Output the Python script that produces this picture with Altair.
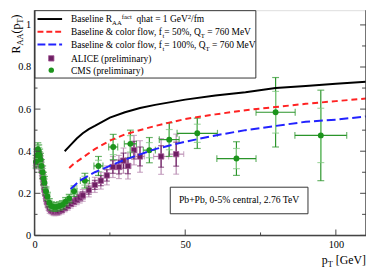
import altair as alt
import pandas as pd

# ---------------- data ----------------
base_x = [10, 12, 14, 16, 18, 20, 25, 30, 35, 40, 50, 60, 70, 80, 90, 100, 110]
base_y = [0.40, 0.43, 0.46, 0.485, 0.505, 0.52, 0.56, 0.585, 0.605, 0.62, 0.645, 0.665, 0.68, 0.70, 0.71, 0.72, 0.73]
cf50_x = [11.5, 13, 15, 18, 20, 25, 30, 40, 50, 60, 70, 80, 90, 100, 110]
cf50_y = [0.32, 0.34, 0.36, 0.39, 0.41, 0.45, 0.48, 0.52, 0.553, 0.575, 0.595, 0.61, 0.625, 0.638, 0.65]
cf100_x = [12, 15, 20, 25, 30, 35, 40, 50, 60, 70, 80, 90, 100, 110]
cf100_y = [0.22, 0.26, 0.30, 0.33, 0.36, 0.385, 0.41, 0.445, 0.475, 0.50, 0.52, 0.54, 0.55, 0.565]

alice_x = [0.6, 0.9, 1.2, 1.5, 1.8, 2.1, 2.4, 2.7, 3.0, 3.3, 3.6, 3.9, 4.2, 4.6, 5.0,
           5.5, 6.0, 6.5, 7.0, 7.5, 8.0, 9.0, 10.0, 11.0, 12.0, 13.0, 14.0, 15.0, 16.0,
           18.0, 20.0, 22.0, 24.0, 26.0, 28.0, 29.5, 31.0, 33.0, 35.0, 42.0, 47.0]
alice_y = [0.34, 0.36, 0.38, 0.38, 0.37, 0.34, 0.31, 0.28, 0.25, 0.22, 0.20, 0.175, 0.16, 0.145, 0.13,
           0.12, 0.115, 0.112, 0.112, 0.113, 0.115, 0.12, 0.13, 0.14, 0.15, 0.16, 0.17, 0.18, 0.19,
           0.215, 0.24, 0.26, 0.285, 0.325, 0.325, 0.355, 0.33, 0.405, 0.375, 0.375, 0.386]
alice_yerr = [0.025] * 15 + [0.018] * 8 + [0.02, 0.02, 0.022, 0.024, 0.026, 0.028,
              0.032, 0.036, 0.04, 0.045, 0.05, 0.055, 0.06, 0.062, 0.07, 0.075, 0.085, 0.095]
alice_xerr = [0] * 32 + [0, 1.0, 1.0, 1.0, 1.0, 1.0, 1.5, 2.5, 2.5]

cms_x = [0.5, 0.8, 1.1, 1.4, 1.7, 2.0, 2.3, 2.7, 3.0, 3.3, 3.8, 4.3, 4.9, 5.6, 6.4, 7.2, 8.2, 9.2,
         10.3, 11.5, 13.1, 16.7, 21.2, 26.1, 31.8, 38.1, 44.7, 54.0, 67.0, 80.0, 95.0]
cms_y = [0.35, 0.38, 0.41, 0.40, 0.38, 0.36, 0.33, 0.30, 0.27, 0.25, 0.21, 0.185, 0.155, 0.14, 0.135,
         0.135, 0.14, 0.145, 0.16, 0.175, 0.21, 0.26, 0.33, 0.42, 0.435, 0.405, 0.455, 0.485, 0.365, 0.585, 0.475]
cms_yerr = [0.03] * 10 + [0.02] * 10 + [0.025, 0.035, 0.045, 0.06, 0.065, 0.06, 0.08, 0.072, 0.08, 0.165, 0.215]
cms_xerr = [0] * 20 + [1.0, 1.5, 1.5, 1.5, 2.0, 2.0, 3.3, 6.7, 6.5, 6.5, 8.6]

x_major = [0, 50, 100]
x_minor = [25, 75]
y_major = [0, 0.2, 0.4, 0.6, 0.8, 1.0]
y_minor = [0.1, 0.3, 0.5, 0.7, 0.9]

legend_labels = [
    [("Baseline R", "n"), ("AA", "sub"), ("fact", "sup"), ("  qhat = 1 GeV", "n"), ("2", "sup"), ("/fm", "n")],
    [("Baseline & color flow, f", "n"), ("t", "sub"), ("= 50%, Q", "n"), ("T", "sub"), (" = 760 MeV", "n")],
    [("Baseline & color flow, f", "n"), ("t", "sub"), ("= 100%, Q", "n"), ("T", "sub"), (" = 760 MeV", "n")],
    [("ALICE (preliminary)", "n")],
    [("CMS (preliminary)", "n")],
]
annotation = "Pb+Pb,  0-5% central, 2.76 TeV"
y_title = [("R", "n"), ("AA", "sub"), ("(p", "n"), ("T", "sub"), (")", "n")]
x_title = [("p", "n"), ("T", "sub"), (" [GeV]", "n")]

# ---------------- layout ----------------
W, H = 337, 229
SERIF = "Liberation Serif, Times New Roman, Times, DejaVu Serif, serif"
FRAME = "#444444"
xs = alt.Scale(domain=[0, 110], nice=False, zero=False)
ys = alt.Scale(domain=[0, 1.07], nice=False, zero=False)
ONE = alt.Data(values=[{"a": 1}])

AX = alt.Axis(values=x_major, format="d", ticks=False, tickSize=0, domain=False, grid=False,
              labelFlush=False, labelPadding=4, labelFont=SERIF, labelFontSize=10.5,
              labelColor="black", title=None)
AY = alt.Axis(values=y_major, format="~g", ticks=False, tickSize=0, domain=False, grid=False,
              labelPadding=4, labelFont=SERIF, labelFontSize=10.5, labelColor="black", title=None)

TW = {' ': 250, 'a': 444, 'b': 500, 'c': 444, 'd': 500, 'e': 444, 'f': 333, 'g': 500, 'h': 500,
      'i': 278, 'l': 278, 'm': 778, 'n': 500, 'o': 500, 'p': 500, 'q': 500, 'r': 333, 's': 389,
      't': 278, 'u': 500, 'v': 500, 'w': 722, 'y': 500, 'A': 722, 'B': 667, 'C': 667, 'E': 611,
      'G': 722, 'I': 333, 'L': 611, 'M': 889, 'P': 556, 'Q': 722, 'R': 667, 'S': 556, 'T': 611,
      'V': 722, '&': 778, ',': 250, '.': 250, '=': 564, '%': 833, '(': 333, ')': 333, '/': 278,
      '[': 333, ']': 333, '+': 564, '-': 333}


def tw(s, fs):
    return sum(TW.get(c, 500) for c in s) * fs / 1000.0


def text_piece(txt, x, y, fs, angle=0):
    kw = dict(font=SERIF, fontSize=fs, color="black", align="left", baseline="alphabetic")
    if angle:
        kw["angle"] = angle
    return alt.Chart(ONE).mark_text(**kw).encode(x=alt.value(x), y=alt.value(y), text=alt.value(txt))


def rich(pieces, x0, y0, fs, sfs, vertical=False):
    out = []
    pos = 0.0
    for txt, kind in pieces:
        if kind == "n":
            f, d = fs, 0.0
        elif kind == "sub":
            f, d = sfs, fs * 0.3
        else:
            f, d = sfs, -fs * 0.42
        lead = len(txt) - len(txt.lstrip(" "))
        pos += tw(" " * lead, f)
        core = txt.strip(" ")
        if vertical:
            out.append(text_piece(core, x0 + d, y0 - pos, f, angle=270))
        else:
            out.append(text_piece(core, x0 + pos, y0 + d, f))
        pos += tw(txt.lstrip(" "), f)
    return out


def XQ(field):
    return alt.X(field, type="quantitative", scale=xs, axis=AX)


def YQ(field):
    return alt.Y(field, type="quantitative", scale=ys, axis=AY)


def curve(xv, yv, color, dash=None):
    kw = dict(color=color, strokeWidth=2, clip=True)
    if dash:
        kw["strokeDash"] = dash
    return alt.Chart(pd.DataFrame({"x": xv, "y": yv})).mark_line(**kw).encode(x=XQ("x"), y=YQ("y"))


def errors(xv, yv, ye, xe, outer, inner, capw):
    df = pd.DataFrame({"x": xv, "y": yv, "ye": ye, "xe": xe})
    df["lo"] = df.y - df.ye
    df["hi"] = df.y + df.ye
    df["ilo"] = df.y - 0.6 * df.ye
    df["ihi"] = df.y + 0.6 * df.ye
    df["xlo"] = df.x - df.xe
    df["xhi"] = df.x + df.xe
    layers = []
    layers.append(alt.Chart(df).mark_rule(color=outer, strokeWidth=1.2).encode(
        x=XQ("x"), y=YQ("lo"), y2="hi:Q"))
    caps = pd.DataFrame({"x": list(df.x) * 2, "y": list(df.lo) + list(df.hi)})
    layers.append(alt.Chart(caps).mark_tick(orient="horizontal", size=capw, thickness=1.2, color=outer).encode(
        x=XQ("x"), y=YQ("y")))
    icaps = pd.DataFrame({"x": list(df.x) * 2, "y": list(df.ilo) + list(df.ihi)})
    layers.append(alt.Chart(df).mark_rule(color=inner, strokeWidth=1.2).encode(
        x=XQ("x"), y=YQ("ilo"), y2="ihi:Q"))
    layers.append(alt.Chart(icaps).mark_tick(orient="horizontal", size=capw, thickness=1.2, color=inner).encode(
        x=XQ("x"), y=YQ("y")))
    dfx = df[df.xe > 0]
    layers.append(alt.Chart(dfx).mark_rule(color=outer, strokeWidth=1.2).encode(
        x=XQ("xlo"), x2="xhi:Q", y=YQ("y")))
    xcaps = pd.DataFrame({"x": list(dfx.xlo) + list(dfx.xhi), "y": list(dfx.y) * 2})
    layers.append(alt.Chart(xcaps).mark_tick(orient="vertical", size=capw, thickness=1.2, color=outer).encode(
        x=XQ("x"), y=YQ("y")))
    return layers


def xticks(vals, length):
    return alt.Chart(pd.DataFrame({"v": vals})).mark_rule(color=FRAME, strokeWidth=1).encode(
        x=XQ("v"), y=alt.value(H - length), y2=alt.value(H))


def yticks(vals, length, right=False):
    x1, x2 = (W - length, W) if right else (0, length)
    return alt.Chart(pd.DataFrame({"v": vals})).mark_rule(color=FRAME, strokeWidth=1).encode(
        y=YQ("v"), x=alt.value(x1), x2=alt.value(x2))


layers = []
layers += errors(alice_x, alice_y, alice_yerr, alice_xerr, "#b98cb2", "#6e2064", 6)
layers.append(alt.Chart(pd.DataFrame({"x": alice_x, "y": alice_y})).mark_point(
    shape="square", filled=True, size=30, color="#6e1f63", opacity=1, stroke="#a45a98", strokeWidth=0.8).encode(
    x=XQ("x"), y=YQ("y")))
layers += errors(cms_x, cms_y, cms_yerr, cms_xerr, "#2b952b", "#7cc77c", 7)
layers.append(alt.Chart(pd.DataFrame({"x": cms_x, "y": cms_y})).mark_point(
    shape="circle", filled=True, size=36, color="#1c941c", opacity=1).encode(
    x=XQ("x"), y=YQ("y")))
layers.append(curve(base_x, base_y, "black"))
layers.append(curve(cf50_x, cf50_y, "#ff2222", [6, 4]))
layers.append(curve(cf100_x, cf100_y, "#2222ff", [9, 4]))

# frame + ticks
layers.append(alt.Chart(ONE).mark_rule(color=FRAME, strokeWidth=1.5).encode(
    x=alt.value(0), y=alt.value(0), y2=alt.value(H)))
layers.append(alt.Chart(ONE).mark_rule(color=FRAME, strokeWidth=1.5).encode(
    x=alt.value(W), y=alt.value(0), y2=alt.value(H)))
layers.append(alt.Chart(ONE).mark_rule(color=FRAME, strokeWidth=1.5).encode(
    x=alt.value(0), x2=alt.value(W), y=alt.value(H)))
layers += [xticks(x_major, 6), xticks(x_minor, 3),
           yticks(y_major, 6), yticks(y_minor, 3),
           yticks(y_major, 6, True), yticks(y_minor, 4, True)]

# legend
layers.append(alt.Chart(ONE).mark_rect(fill="white", stroke="#333333", strokeWidth=1).encode(
    x=alt.value(0.5), x2=alt.value(225), y=alt.value(0.5), y2=alt.value(69)))
row_y = [9, 22, 35, 49, 61]
layers.append(alt.Chart(ONE).mark_rule(color="black", strokeWidth=2).encode(
    x=alt.value(3), x2=alt.value(28), y=alt.value(row_y[0])))
layers.append(alt.Chart(ONE).mark_rule(color="#ff2222", strokeWidth=2, strokeDash=[6, 3]).encode(
    x=alt.value(3), x2=alt.value(28), y=alt.value(row_y[1])))
layers.append(alt.Chart(ONE).mark_rule(color="#2222ff", strokeWidth=2, strokeDash=[8, 3]).encode(
    x=alt.value(3), x2=alt.value(28), y=alt.value(row_y[2])))
layers.append(alt.Chart(ONE).mark_point(shape="square", filled=True, size=30, color="#6e1f63", opacity=1,
                                        stroke="#a45a98", strokeWidth=0.8).encode(
    x=alt.value(17), y=alt.value(row_y[3])))
layers.append(alt.Chart(ONE).mark_point(shape="circle", filled=True, size=30, color="#1c941c", opacity=1).encode(
    x=alt.value(17), y=alt.value(row_y[4])))
for ry, pieces in zip(row_y, legend_labels):
    layers += rich(pieces, 37, ry + 3.5, 9.6, 6.8)

# annotation box
layers.append(alt.Chart(ONE).mark_rect(fill="white", stroke="#333333", strokeWidth=1).encode(
    x=alt.value(138), x2=alt.value(278), y=alt.value(180), y2=alt.value(207)))
layers.append(alt.Chart(ONE).mark_text(font=SERIF, fontSize=9.8, color="black", align="center",
                                       baseline="middle").encode(
    x=alt.value(208), y=alt.value(193.5), text=alt.value(annotation)))

# axis titles
layers += rich(y_title, -15, 44, 12, 8.5, vertical=True)
layers += rich(x_title, 292, 258, 12, 8.5)

chart = alt.layer(*layers).properties(
    width=W, height=H,
    autosize=alt.AutoSizeParams(type="none"),
    padding={"left": 27, "top": 0, "right": 0, "bottom": 35},
).configure_view(stroke=None).configure(background="white")

chart.save("out.html", embed_options={"renderer": "svg", "actions": False})
